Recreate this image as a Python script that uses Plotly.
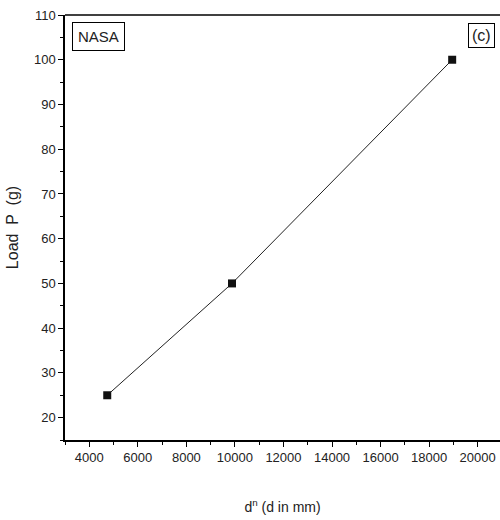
import plotly.graph_objects as go

x_vals = [4740, 9880, 18950]
load_vals = [25, 50, 100]
x_ticks = [4000, 6000, 8000, 10000, 12000, 14000, 16000, 18000, 20000]
x_tick_text = [str(v) for v in x_ticks]
y_ticks = [20, 30, 40, 50, 60, 70, 80, 90, 100, 110]
y_tick_text = [str(v) for v in y_ticks]

fig = go.Figure()
fig.add_trace(go.Scatter(
    x=x_vals, y=load_vals, mode="lines+markers",
    line=dict(color="#222222", width=1),
    marker=dict(symbol="square", size=8, color="#111111"),
    showlegend=False,
))

font = dict(family="Liberation Sans, Arial, sans-serif", size=13, color="#222222")

fig.update_layout(
    width=500, height=520,
    margin=dict(l=65, r=0, t=15, b=80),
    paper_bgcolor="white", plot_bgcolor="white",
    font=font,
    xaxis=dict(
        range=[3000, 20920], tickvals=x_ticks, ticktext=x_tick_text,
        ticks="outside", ticklen=5,
        tickwidth=1, tickcolor="black", showline=True, linecolor="black",
        linewidth=1.5, mirror=False, showgrid=False, zeroline=False,
        minor=dict(dtick=1000, tick0=3000, ticks="outside", ticklen=3, tickcolor="black", showgrid=False),
        title=dict(text="d<sup>n</sup> (d in mm)", font=dict(size=14), standoff=38),
        tickfont=dict(size=13),
    ),
    yaxis=dict(
        range=[15, 110], tickvals=y_ticks, ticktext=y_tick_text,
        ticks="outside", ticklen=5,
        tickwidth=1, tickcolor="black", showline=True, linecolor="black",
        linewidth=1.5, showgrid=False, zeroline=False,
        minor=dict(dtick=5, tick0=15, ticks="outside", ticklen=3, tickcolor="black", showgrid=False),
        title=dict(text="Load  P  (g)", font=dict(size=16), standoff=11),
        tickfont=dict(size=13),
    ),
    shapes=[dict(type="line", xref="paper", yref="paper", x0=0, x1=1, y0=1, y1=1,
                 line=dict(color="black", width=1.5))],
    annotations=[
        dict(text="NASA", xref="paper", yref="paper", x=0.015, y=0.984,
             xanchor="left", yanchor="top", showarrow=False,
             bordercolor="black", borderwidth=1, borderpad=5,
             font=dict(size=15, color="#222222")),
        dict(text="(c)", xref="paper", yref="paper", x=0.988, y=0.982,
             xanchor="right", yanchor="top", showarrow=False,
             bordercolor="black", borderwidth=1, borderpad=3,
             font=dict(size=16, color="#222222")),
    ],
)

fig.write_html("out.html")
